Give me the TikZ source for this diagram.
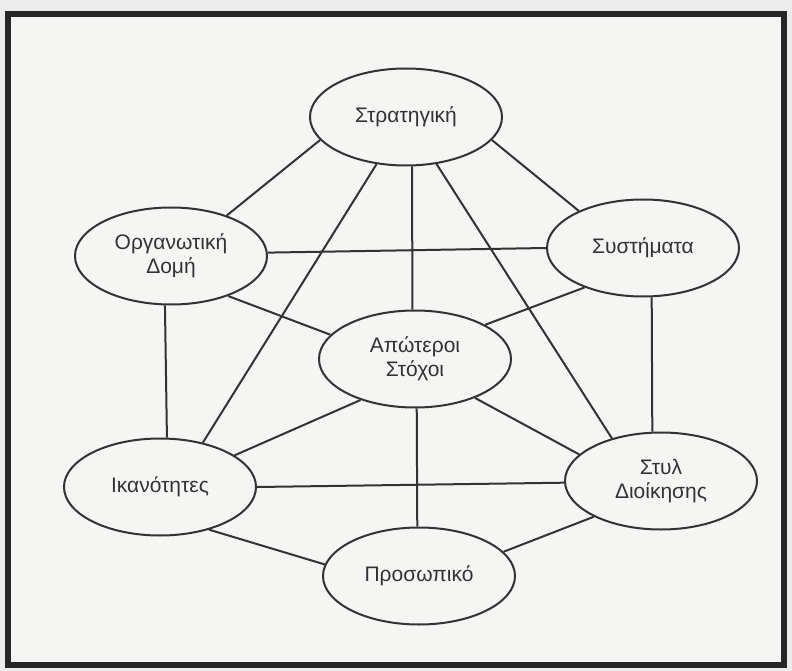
\documentclass[tikz,border=0pt]{standalone}
\usepackage{fontspec}
\setmainfont{Liberation Sans}
\usetikzlibrary{shapes.geometric}
\definecolor{ink}{HTML}{333333}
\definecolor{paper}{HTML}{F5F5F3}
\definecolor{outside}{HTML}{ECECEC}

\begin{document}
\begin{tikzpicture}[x=1pt, y=-1pt,
		bubble/.style={draw=ink, line width=2pt, fill=paper, ellipse, minimum width=192pt, minimum height=97pt, inner sep=0pt, align=center, text=ink, font=\fontsize{21}{24}\selectfont},
		link/.style={draw=ink, line width=2pt}]
	\useasboundingbox (0, 0) rectangle (792, 671);
	\fill[outside] (0, 0) rectangle (792, 671);
	\draw[line width=6pt, draw=black!85, fill=paper] (8, 14.5) rectangle (784, 665);
	
	% the seven elements
	\node[bubble] (strat) at (406, 117) {Στρατηγική};
	\node[bubble] (org) at (171, 256) {Οργανωτική\\Δομή};
	\node[bubble] (sys) at (643, 248) {Συστήματα};
	\node[bubble] (goals) at (415, 359) {Απώτεροι\\Στόχοι};
	\node[bubble] (skills) at (160, 487) {Ικανότητες};
	\node[bubble] (staff) at (419, 576) {Προσωπικό};
	\node[bubble] (style) at (661, 481) {Στυλ\\Διοίκησης};
	
	% links
	\draw[link] (strat.195) -- (org.36);
	\draw[link] (strat.238) -- (skills.46);
	\draw[link] (strat.277) -- (goals.93);
	\draw[link] (strat.303) -- (style.139);
	\draw[link] (strat.345) -- (sys.150);
	\draw[link] (org.2) -- (sys.180);
	\draw[link] (org.325) -- (goals.164);
	\draw[link] (org.263) -- (skills.82);
	\draw[link] (sys.214) -- (goals.26);
	\draw[link] (sys.280) -- (style.100);
	\draw[link] (goals.217) -- (skills.23);
	\draw[link] (goals.272) -- (staff.92);
	\draw[link] (goals.327) -- (style.162);
	\draw[link] (skills.0) -- (style.181);
	\draw[link] (skills.319) -- (staff.173);
	\draw[link] (staff.16) -- (style.208);
\end{tikzpicture}
\end{document}
